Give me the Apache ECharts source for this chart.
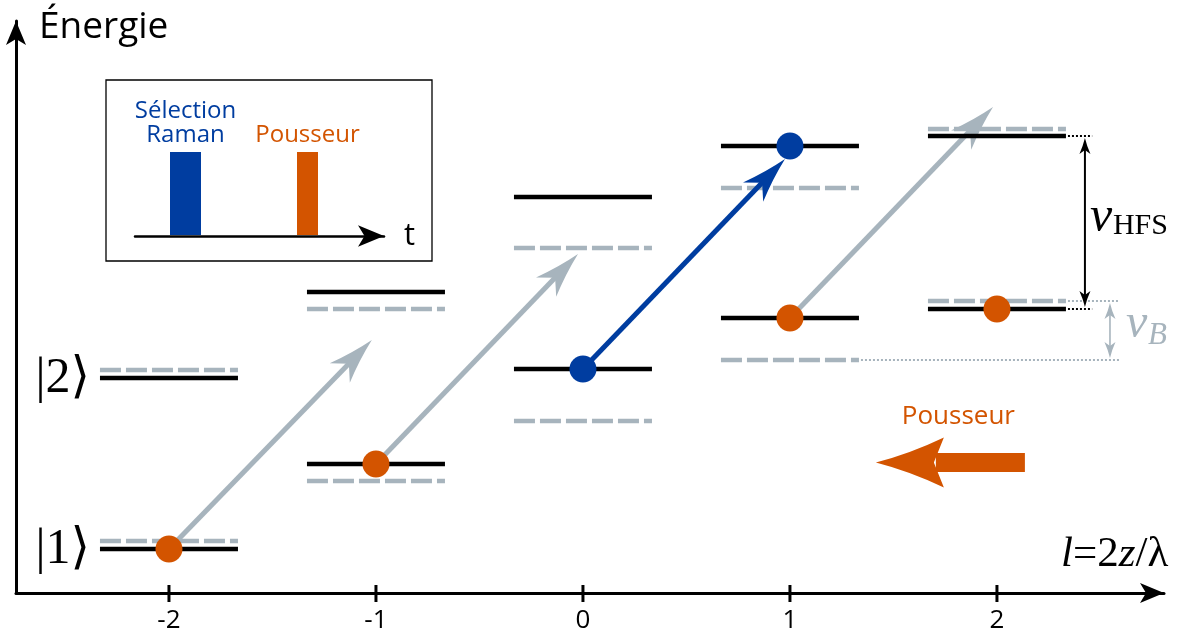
<!DOCTYPE html>
<html><head><meta charset="utf-8">
<script src="https://cdn.jsdelivr.net/npm/echarts@6/dist/echarts.min.js"></script>
<style>html,body{margin:0;padding:0;background:#fff}#c{width:1186px;height:635px}</style>
</head><body><div id="c"></div>
<script>
// ---- data ----
const tickValues = [-2, -1, 0, 1, 2];            // l = 2z/lambda
const tickLabels = ['-2', '-1', '0', '1', '2'];
const momentum = [-2, -1, 0, 1, 2];
const level1 = [4.4, 12.9, 22.4, 27.5, 28.4];    // |1> black
const level2 = [21.5, 30.1, 39.6, 44.7, 45.7];   // |2> black
const level1Shifted = [5.2, 11.2, 17.2, 23.3, 29.2]; // grey dashed
const level2Shifted = [22.3, 28.4, 34.5, 40.5, 46.4];
const pusherAtoms = [[-2, 4.4], [-1, 12.9], [1, 27.5], [2, 28.4]];
const selectedAtoms = [[0, 22.4], [1, 44.7]];
const grayTransitions = [[-2, 4.4, -1.02, 25.3], [-1, 12.9, -0.024, 33.9], [1, 27.5, 1.981, 48.6]];
const blueTransitions = [[0, 22.4, 0.976, 43.4]];
const pusherBeam = [[2.135, 13.05, 1.415, 13.05]];
const hfsArrow = [[2.425, 45.7, 28.4]];
const zeemanArrow = [[2.546, 29.2, 23.3]];
const kets = [['|1⟩', -2, 4.4], ['|2⟩', -2, 21.5]];
const pulseNames = ['Sélection\nRaman', 'Pousseur'];
const pulseStart = [3.5, 16.2];
const pulseEnd = [6.6, 18.3];
const pulseAmplitude = [1, 1];

// ---- styles ----
const ORANGE = '#D35400', BLUE = '#003DA0', GREY = '#A7B4BD';
const HALF = 1 / 3;
const SANS = '"Open Sans", "Noto Sans", sans-serif';
const SERIF = '"Liberation Serif", "DejaVu Serif", serif';

function headPath(tip, ux, uy, len, half, notch) {
  const px = -uy, py = ux;
  const w1 = [tip[0] - ux * len + px * half, tip[1] - uy * len + py * half];
  const w2 = [tip[0] - ux * len - px * half, tip[1] - uy * len - py * half];
  const n = [tip[0] - ux * notch, tip[1] - uy * notch];
  const c1 = [tip[0] - ux * len * 0.5 + px * half * 0.35, tip[1] - uy * len * 0.5 + py * half * 0.35];
  const c2 = [tip[0] - ux * len * 0.5 - px * half * 0.35, tip[1] - uy * len * 0.5 - py * half * 0.35];
  return 'M' + tip[0] + ' ' + tip[1] + ' Q' + c1[0] + ' ' + c1[1] + ' ' + w1[0] + ' ' + w1[1] +
    ' L' + n[0] + ' ' + n[1] + ' L' + w2[0] + ' ' + w2[1] + ' Q' + c2[0] + ' ' + c2[1] + ' ' + tip[0] + ' ' + tip[1] + ' Z';
}
function arrowEl(p0, p1, color, lw, len, half, notch) {
  const dx = p1[0] - p0[0], dy = p1[1] - p0[1], L = Math.hypot(dx, dy), ux = dx / L, uy = dy / L;
  const n = [p1[0] - ux * (notch - 2), p1[1] - uy * (notch - 2)];
  return {
    type: 'group', children: [
      { type: 'line', shape: { x1: p0[0], y1: p0[1], x2: n[0], y2: n[1] }, style: { stroke: color, lineWidth: lw } },
      { type: 'path', shape: { pathData: headPath(p1, ux, uy, len, half, notch) }, style: { fill: color } }
    ]
  };
}
function levelRender(color, dash) {
  return function (params, api) {
    const l = api.value(0), E = api.value(1);
    const a = api.coord([l - HALF, E]), b = api.coord([l + HALF, E]);
    return { type: 'line', shape: { x1: a[0], y1: a[1], x2: b[0], y2: b[1] },
      style: { stroke: color, lineWidth: 4.5, lineDash: dash, lineCap: 'butt' } };
  };
}
function transitionRender(color) {
  return function (params, api) {
    const p0 = api.coord([api.value(0), api.value(1)]), p1 = api.coord([api.value(2), api.value(3)]);
    return arrowEl(p0, p1, color, 5, 46, 14, 33);
  };
}
const dashedData = [], solidData = [];
momentum.forEach((l, i) => {
  dashedData.push([l, level1Shifted[i]], [l, level2Shifted[i]]);
  solidData.push([l, level1[i]], [l, level2[i]]);
});
const L2 = momentum.length - 1;
const guides = [
  [momentum[L2] + HALF, 2.46, level2[L2], '#000'],
  [momentum[L2] + HALF, 2.46, level1[L2], '#000'],
  [momentum[L2] + HALF, 2.59, level1Shifted[L2], GREY],
  [momentum[L2 - 1] + HALF, 2.59, level1Shifted[L2 - 1], GREY]
];
function doubleArrow(api, color, lw) {
  const x = api.value(0);
  const a = api.coord([x, api.value(1)]), b = api.coord([x, api.value(2)]);
  a[1] += 2; b[1] -= 2;
  return [
    { type: 'line', shape: { x1: a[0], y1: a[1] + 10, x2: b[0], y2: b[1] - 10 }, style: { stroke: color, lineWidth: lw } },
    { type: 'path', shape: { pathData: headPath(a, 0, -1, 16, 5.5, 12) }, style: { fill: color } },
    { type: 'path', shape: { pathData: headPath(b, 0, 1, 16, 5.5, 12) }, style: { fill: color } }
  ];
}

const option = {
  animation: false,
  backgroundColor: '#fff',
  grid: [
    { left: 16, right: 22, top: 21, bottom: 42 },
    { left: 135, right: 802, top: 152, bottom: 399 }
  ],
  xAxis: [
    { type: 'value', gridIndex: 0, min: -2.739, max: 2.807, position: 'bottom',
      axisLine: { onZero: false, lineStyle: { color: '#000', width: 3 }, symbol: ['none', 'arrow'], symbolSize: [15, 24] },
      axisTick: { show: false }, axisLabel: { show: false }, splitLine: { show: false } },
    { type: 'value', gridIndex: 1, min: 0, max: 24.9, name: 't', nameLocation: 'end', nameGap: 20,
      nameTextStyle: { fontSize: 31, fontFamily: SANS, color: '#000', verticalAlign: 'middle', padding: [0, 0, 6, 0] },
      axisLine: { onZero: false, lineStyle: { color: '#000', width: 2.5 }, symbol: ['none', 'arrow'], symbolSize: [16, 26] },
      axisTick: { show: false }, axisLabel: { show: false }, splitLine: { show: false } }
  ],
  yAxis: [
    { type: 'value', gridIndex: 0, min: 0, max: 57.2,
      axisLine: { show: true, onZero: false, lineStyle: { color: '#000', width: 3 }, symbol: ['none', 'arrow'], symbolSize: [15, 24] },
      axisTick: { show: false }, axisLabel: { show: false }, splitLine: { show: false } },
    { type: 'value', gridIndex: 1, min: 0, max: 1, show: false }
  ],
  graphic: [
    { type: 'rect', shape: { x: 106, y: 80, width: 326, height: 181 }, style: { fill: 'none', stroke: '#000', lineWidth: 1.3 }, z: 1 },
    { type: 'text', left: 39, top: 9, style: { text: 'Énergie', fontSize: 37, fontFamily: SANS, fill: '#000' } },
    { type: 'text', left: 1061, top: 533, style: {
      text: '{i|l}{r|=2}{i|z}{r|/λ}',
      rich: { i: { fontSize: 43, fontFamily: SERIF, fontStyle: 'italic', fill: '#000' },
              r: { fontSize: 43, fontFamily: SERIF, fill: '#000' } } } }
  ],
  series: [
    { type: 'custom', name: 'graduations', xAxisIndex: 0, yAxisIndex: 0, data: tickValues.map(v => [v, 0]),
      renderItem: function (params, api) {
        const p = api.coord([api.value(0), 0]);
        return { type: 'group', children: [
          { type: 'line', shape: { x1: p[0], y1: p[1] - 8, x2: p[0], y2: p[1] + 9 }, style: { stroke: '#000', lineWidth: 3 } },
          { type: 'text', style: { text: tickLabels[params.dataIndex], x: p[0], y: p[1] + 28, fontSize: 26, fontFamily: SANS,
            fill: '#000', align: 'center', verticalAlign: 'middle' } }
        ] };
      }, z: 8 },
    { type: 'custom', name: 'niveaux décalés', xAxisIndex: 0, yAxisIndex: 0, data: dashedData,
      encode: { x: 0, y: 1 }, renderItem: levelRender(GREY, [21, 5]), z: 2 },
    { type: 'custom', name: 'transitions', xAxisIndex: 0, yAxisIndex: 0, data: grayTransitions,
      encode: { x: [0, 2], y: [1, 3] }, renderItem: transitionRender(GREY), z: 3 },
    { type: 'custom', name: 'niveaux', xAxisIndex: 0, yAxisIndex: 0, data: solidData,
      encode: { x: 0, y: 1 }, renderItem: levelRender('#000', null), z: 4 },
    { type: 'custom', name: 'sélection Raman', xAxisIndex: 0, yAxisIndex: 0, data: blueTransitions,
      encode: { x: [0, 2], y: [1, 3] }, renderItem: transitionRender(BLUE), z: 5 },
    { type: 'scatter', name: 'atomes poussés', xAxisIndex: 0, yAxisIndex: 0, data: pusherAtoms,
      symbolSize: 27, itemStyle: { color: ORANGE, opacity: 1 }, z: 6 },
    { type: 'scatter', name: 'atomes sélectionnés', xAxisIndex: 0, yAxisIndex: 0, data: selectedAtoms,
      symbolSize: 27, itemStyle: { color: BLUE, opacity: 1 }, z: 6 },
    { type: 'custom', name: 'repères', xAxisIndex: 0, yAxisIndex: 0, data: guides,
      renderItem: function (params, api) {
        const g = guides[params.dataIndex];
        const a = api.coord([g[0], g[2]]), b = api.coord([g[1], g[2]]);
        return { type: 'line', shape: { x1: a[0] + 2, y1: a[1], x2: b[0], y2: b[1] },
          style: { stroke: g[3], lineWidth: 2, lineDash: [2, 2] } };
      }, z: 3 },
    { type: 'custom', name: 'HFS', xAxisIndex: 0, yAxisIndex: 0, data: hfsArrow,
      renderItem: function (params, api) {
        const x = api.value(0), mid = api.coord([x, (api.value(1) + api.value(2)) / 2]);
        return { type: 'group', children: doubleArrow(api, '#000', 2).concat([
          { type: 'text', style: { text: 'ν', x: mid[0] + 5, y: mid[1] - 5, fontSize: 50, fontStyle: 'italic', fontFamily: SERIF, fill: '#000', verticalAlign: 'middle' } },
          { type: 'text', style: { text: 'HFS', x: mid[0] + 28, y: mid[1] + 19, fontSize: 30, fontFamily: SERIF, fill: '#000', verticalAlign: 'bottom' } }
        ]) };
      }, z: 7 },
    { type: 'custom', name: 'Zeeman', xAxisIndex: 0, yAxisIndex: 0, data: zeemanArrow,
      renderItem: function (params, api) {
        const x = api.value(0), mid = api.coord([x, (api.value(1) + api.value(2)) / 2]);
        return { type: 'group', children: doubleArrow(api, GREY, 1.6).concat([
          { type: 'text', style: { text: 'ν', x: mid[0] + 16, y: mid[1] - 6, fontSize: 48, fontStyle: 'italic', fontFamily: SERIF, fill: GREY, verticalAlign: 'middle' } },
          { type: 'text', style: { text: 'B', x: mid[0] + 38, y: mid[1] + 21, fontSize: 31, fontStyle: 'italic', fontFamily: SERIF, fill: GREY, verticalAlign: 'bottom' } }
        ]) };
      }, z: 7 },
    { type: 'custom', name: 'états', xAxisIndex: 0, yAxisIndex: 0, data: kets.map(k => [k[1], k[2]]),
      renderItem: function (params, api) {
        const p = api.coord([api.value(0) - HALF, api.value(1)]);
        return { type: 'text', style: { text: kets[params.dataIndex][0], x: p[0] - 10, y: p[1] + 1,
          fontSize: 50, fontFamily: SERIF, fill: '#000', align: 'right', verticalAlign: 'middle' } };
      }, z: 7 },
    { type: 'custom', name: 'faisceau pousseur', xAxisIndex: 0, yAxisIndex: 0, data: pusherBeam,
      renderItem: function (params, api) {
        const p0 = api.coord([api.value(0), api.value(1)]), p1 = api.coord([api.value(2), api.value(3)]);
        const dx = p1[0] - p0[0], dy = p1[1] - p0[1], L = Math.hypot(dx, dy), ux = dx / L, uy = dy / L;
        const n = [p1[0] - ux * 60, p1[1] - uy * 60];
        return { type: 'group', children: [
          { type: 'line', shape: { x1: p0[0], y1: p0[1], x2: n[0], y2: n[1] }, style: { stroke: ORANGE, lineWidth: 19, lineCap: 'butt' } },
          { type: 'path', shape: { pathData: headPath(p1, ux, uy, 68, 25, 58) }, style: { fill: ORANGE } },
          { type: 'text', style: { text: 'Pousseur', x: (p0[0] + p1[0]) / 2 + 8, y: p0[1] - 46, fontSize: 26, fontFamily: SANS,
            fill: ORANGE, align: 'center', verticalAlign: 'middle' } }
        ] };
      }, z: 7 },
    { type: 'custom', name: 'impulsions', xAxisIndex: 1, yAxisIndex: 1,
      data: pulseStart.map((s, i) => [s, pulseEnd[i], pulseAmplitude[i]]),
      renderItem: function (params, api) {
        const i = params.dataIndex;
        const a = api.coord([api.value(0), api.value(2)]), b = api.coord([api.value(1), 0]);
        const color = i === 0 ? BLUE : ORANGE;
        return { type: 'group', children: [
          { type: 'rect', shape: { x: a[0], y: a[1], width: b[0] - a[0], height: b[1] - a[1] - 1 }, style: { fill: color } },
          { type: 'text', style: { text: pulseNames[i], x: (a[0] + b[0]) / 2, y: a[1] - 5, fontSize: 24, lineHeight: 24,
            fontFamily: SANS, fill: color, align: 'center', verticalAlign: 'bottom' } }
        ] };
      }, z: 2 }
  ]
};
const chart = echarts.init(document.getElementById('c'), null, { renderer: 'canvas' });
chart.setOption(option);
</script></body></html>
